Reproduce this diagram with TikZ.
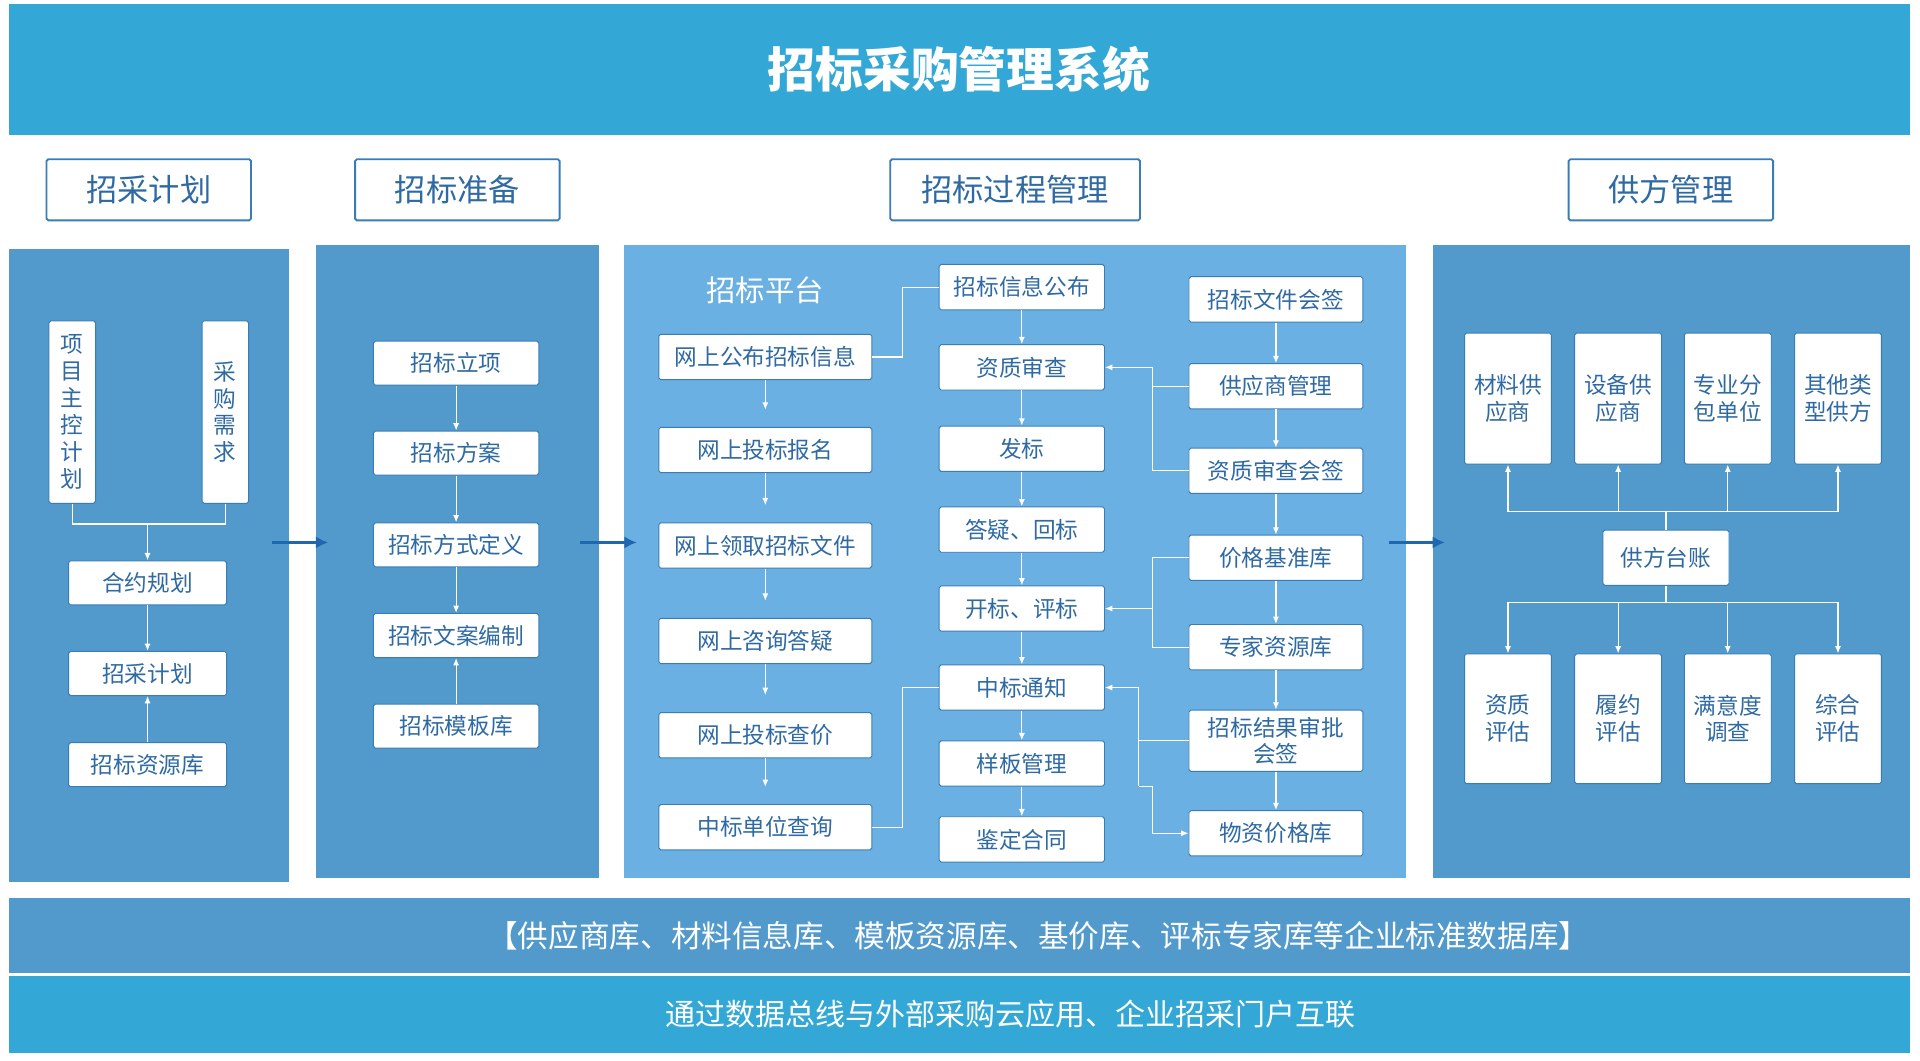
\documentclass[tikz,border=0pt]{standalone}
\usepackage{fontspec}
\setmainfont{Noto Sans CJK SC}
\usetikzlibrary{arrows.meta}
\definecolor{barblue}{HTML}{33A8D6}
\definecolor{panelblue}{HTML}{5299CC}
\definecolor{platblue}{HTML}{6BB0E2}
\definecolor{boxline}{HTML}{3A7DB6}
\definecolor{boxtext}{HTML}{2F6AA3}
\definecolor{arrowblue}{HTML}{2068AE}
\tikzset{
    box/.style={rectangle, draw=boxline, fill=white, rounded corners=1.5pt, line width=0.8pt,
                text=boxtext, font=\fontsize{18.5}{22}\selectfont, align=center, inner sep=0pt},
    hdr/.style={rectangle, draw=boxline, fill=white, line width=1.5pt, rounded corners=1.5pt,
                text=boxtext, font=\fontsize{25.5}{29}\selectfont, minimum width=167pt, minimum height=50pt},
    link/.style={draw=white, line width=1pt},
    flow/.style={link, -{Latex[length=6pt,width=5pt]}},
    bigarrow/.style={draw=arrowblue, line width=2.5pt, -{Latex[length=10pt,width=10pt]}}
}
\begin{document}
\begin{tikzpicture}[x=1pt,y=-1pt]
    \useasboundingbox (0,0) rectangle (1568,866);
    % Bars and panels
    \fill[barblue] (7,3) rectangle (1560,110);
    \node[text=white, font=\fontsize{39}{43}\selectfont\bfseries] (title) at (783,57) {招标采购管理系统};
    \fill[panelblue] (7,203) rectangle (236,720);
    \fill[panelblue] (258,200) rectangle (489,717);
    \fill[platblue] (510,200) rectangle (1148,717);
    \fill[panelblue] (1170,200) rectangle (1560,717);
    \fill[panelblue] (7,733) rectangle (1560,795);
    \fill[barblue] (7,797) rectangle (1560,860);
    \node[text=white, font=\fontsize{25}{29}\selectfont] (dbase) at (848,764) {【供应商库、材料信息库、模板资源库、基价库、评标专家库等企业标准数据库】};
    \node[text=white, font=\fontsize{24.5}{28}\selectfont] (bus) at (825,828) {通过数据总线与外部采购云应用、企业招采门户互联};

    % Headers
    \node[hdr] (hplan) at (121.5,155) {招采计划};
    \node[hdr] (hprep) at (373.5,155) {招标准备};
    \node[hdr, minimum width=204pt] (hproc) at (829,155) {招标过程管理};
    \node[hdr] (hsupp) at (1364.5,155) {供方管理};

    % Panel 1
    \node[box, minimum width=38pt, minimum height=149pt] (master) at (59,336.5) {项\\目\\主\\控\\计\\划};
    \node[box, minimum width=38pt, minimum height=149pt] (demand) at (184,336.5) {采\\购\\需\\求};
    \node[box, minimum width=129pt, minimum height=36pt] (contract) at (120.5,476) {合约规划};
    \node[box, minimum width=129pt, minimum height=36pt] (pplan) at (120.5,550) {招采计划};
    \node[box, minimum width=129pt, minimum height=36pt] (pres) at (120.5,624.5) {招标资源库};
    \draw[link] (master.south) |- (120.5,428) -| (demand.south);
    \draw[flow] (120.5,428) -- (contract);
    \draw[flow] (contract) -- (pplan);
    \draw[flow] (pres) -- (pplan);

    % Panel 2
    \foreach \name/\txt/\y in {setup/招标立项/296.5, scheme/招标方案/370, mode/招标方式定义/445, draft/招标文案编制/519, tmpl/招标模板库/593}
        \node[box, minimum width=135pt, minimum height=36pt] (\name) at (372.5,\y) {\txt};
    \draw[flow] (setup) -- (scheme);
    \draw[flow] (scheme) -- (mode);
    \draw[flow] (mode) -- (draft);
    \draw[flow] (tmpl) -- (draft);

    % Panel 3
    \node[text=white, font=\fontsize{24}{28}\selectfont] (platform) at (625,237) {招标平台};
    \foreach \name/\txt/\y in {onpub/网上公布招标信息/291.5, onreg/网上投标报名/367.5, onget/网上领取招标文件/445.5,
                               onask/网上咨询答疑/523.5, onprice/网上投标查价/600.5, onwin/中标单位查询/675.5}
        \node[box, minimum width=174pt, minimum height=37pt] (\name) at (625,\y) {\txt};
    \foreach \a/\b in {onpub/onreg, onreg/onget, onget/onask, onask/onprice, onprice/onwin}
        \draw[flow, shorten >=14pt] (\a) -- (\b);
    \foreach \name/\txt/\y in {info/招标信息公布/234.5, qual/资质审查/300, issue/发标/366.5, reply/答疑、回标/432.5,
                               open/开标、评标/497, notice/中标通知/561.5, sample/样板管理/623.5, appr/鉴定合同/685.5}
        \node[box, minimum width=135pt, minimum height=37pt] (\name) at (834.5,\y) {\txt};
    \foreach \a/\b in {info/qual, qual/issue, issue/reply, reply/open, open/notice, notice/sample, sample/appr}
        \draw[flow] (\a) -- (\b);
    \foreach \name/\txt/\y in {sign/招标文件会签/244.5, smgr/供应商管理/315.5, qsign/资质审查会签/384.5,
                               pbase/价格基准库/455.5, expert/专家资源库/528.5, mprice/物资价格库/680.5}
        \node[box, minimum width=142pt, minimum height=37pt] (\name) at (1042,\y) {\txt};
    \node[box, minimum width=142pt, minimum height=50pt] (result) at (1042,605) {招标结果审批\\会签};
    \foreach \a/\b in {sign/smgr, smgr/qsign, qsign/pbase, pbase/expert, expert/result, result/mprice}
        \draw[flow] (\a) -- (\b);
    \draw[link] (onpub.east) -- (737,291.5) |- (info.west);
    \draw[link] (onwin.east) -- (737,675.5) |- (notice.west);
    \draw[link] (smgr.west) -| (941,300);
    \draw[link] (qsign.west) -| (941,300);
    \draw[flow] (941,300) -- (qual.east);
    \draw[link] (pbase.west) -| (941,497);
    \draw[link] (expert.west) -| (941,497);
    \draw[flow] (941,497) -- (open.east);
    \draw[flow] (930,642) -- (930,561.5) -- (notice.east);
    \draw[link] (result.west) -- (930,605);
    \draw[link] (930,642) -- (941,642);
    \draw[flow] (941,642) |- (mprice.west);

    % Panel 4
    \foreach \name/\txt/\x in {mat/材料供\\应商/1231.5, equ/设备供\\应商/1321.5, sub/专业分\\包单位/1411, oth/其他类\\型供方/1501}
        \node[box, minimum width=71pt, minimum height=107pt] (\name) at (\x,325.5) {\txt};
    \foreach \name/\txt/\x in {eq/资质\\评估/1231.5, ep/履约\\评估/1321.5, es/满意度\\调查/1411, ec/综合\\评估/1501}
        \node[box, minimum width=71pt, minimum height=106pt] (\name) at (\x,587) {\txt};
    \node[box, minimum width=103pt, minimum height=45pt] (ledger) at (1360.5,455.5) {供方台账};
    \draw[link] (ledger.north) -- (1360.5,418);
    \draw[link] (1231.5,418) -- (1501,418);
    \foreach \n in {mat, equ, sub, oth}
        \draw[flow] (\n.south |- 0,418) -- (\n.south);
    \draw[link] (ledger.south) -- (1360.5,492);
    \draw[link] (1231.5,492) -- (1501,492);
    \foreach \n in {eq, ep, es, ec}
        \draw[flow] (\n.north |- 0,492) -- (\n.north);

    % Between panels
    \draw[bigarrow] (222,443) -- (268,443);
    \draw[bigarrow] (474,443) -- (520,443);
    \draw[bigarrow] (1134,443) -- (1180,443);
\end{tikzpicture}
\end{document}
